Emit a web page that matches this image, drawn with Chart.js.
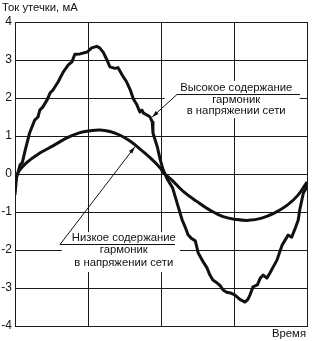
<!DOCTYPE html>
<html>
<head>
<meta charset="utf-8">
<script src="https://cdn.jsdelivr.net/npm/chart.js@4/dist/chart.umd.min.js"></script>
<style>
  html, body { margin: 0; padding: 0; background: #fff; }
  #wrap { width: 313px; height: 341px; position: relative; }
</style>
</head>
<body>
<div id="wrap"><canvas id="canvas"></canvas></div>
<script>
// values (x = time in grid divisions, y = mA)
const low_x = [0, 0.04, 0.16, 0.34, 0.52, 0.71, 0.89, 1.03, 1.16, 1.3, 1.44, 1.58, 1.71, 1.85, 1.99, 2.03, 2.15,
  2.3, 2.49, 2.67, 2.85, 3.04, 3.2, 3.38, 3.55, 3.73, 3.88, 4.0];
const low_y = [-0.25, 0.03, 0.3, 0.55, 0.74, 0.95, 1.09, 1.14, 1.16, 1.12, 1.02, 0.86, 0.66, 0.43, 0.16, 0.04, -0.16,
  -0.45, -0.72, -0.95, -1.12, -1.2, -1.22, -1.16, -1.03, -0.82, -0.55, -0.21];

const high_x = [0, 0.02, 0.05, 0.07, 0.1, 0.14, 0.2, 0.27, 0.315, 0.34, 0.38, 0.44, 0.48, 0.52, 0.59, 0.66, 0.73, 0.78,
  0.82, 0.89, 0.99, 1.05, 1.12, 1.16, 1.21, 1.26, 1.3, 1.37, 1.41, 1.47, 1.53, 1.58, 1.62, 1.67, 1.71, 1.74, 1.76,
  1.81, 1.85, 1.88, 1.89, 1.95, 1.99, 2.03, 2.08, 2.12, 2.16, 2.22, 2.29, 2.33, 2.37, 2.42, 2.47, 2.49, 2.51, 2.58,
  2.63, 2.67, 2.71, 2.77, 2.81, 2.85, 2.9, 2.95, 3.01, 3.08, 3.15, 3.19, 3.22, 3.26, 3.32, 3.36, 3.4, 3.45, 3.49,
  3.53, 3.59, 3.63, 3.66, 3.7, 3.74, 3.79, 3.84, 3.88, 3.9, 3.93, 3.95, 3.99, 4.0];
const high_y = [-0.55, -0.1, 0.1, 0.24, 0.3, 0.63, 1.08, 1.42, 1.5, 1.68, 1.76, 1.95, 2.13, 2.21, 2.42, 2.68, 2.87, 2.95,
  3.15, 3.16, 3.21, 3.32, 3.36, 3.32, 3.2, 3.0, 2.82, 2.78, 2.8, 2.6, 2.42, 2.21, 1.98, 1.82, 1.63, 1.68, 1.6,
  1.55, 1.5, 1.37, 1.08, 0.71, 0.37, 0.11, -0.11, -0.24, -0.37, -0.76, -1.21, -1.39, -1.6, -1.7, -1.76, -1.92, -2.08, -2.32,
  -2.47, -2.66, -2.79, -2.87, -2.94, -3.05, -3.11, -3.13, -3.18, -3.3, -3.37, -3.3, -3.18, -2.97, -2.92, -2.74, -2.66, -2.74, -2.61,
  -2.47, -2.26, -2.03, -1.87, -1.74, -1.61, -1.66, -1.42, -1.21, -0.95, -0.68, -0.5, -0.37, -0.21];

const y_min = -4, y_max = 4, y_step = 1;
const x_min = 0, x_max = 4, x_step = 1;

const y_title = "Ток утечки, мА";
const x_title = "Время";
const high_label = ["Высокое содержание", "гармоник", "в напряжении сети"];
const low_label = ["Низкое содержание", "гармоник", "в напряжении сети"];

const FONT = '11.3px "Liberation Sans", Arial, sans-serif';
const INK = "#111";

// callouts, in data coordinates
const callouts = [
  { lines: high_label, cx: 3.03, ys: [2.26, 1.95, 1.66],
    box: [2.05, 2.45, 3.9, 1.47],
    under: [[3.9, 2.1], [2.22, 2.1]], tip: [1.88, 1.5] },
  { lines: low_label, cx: 1.49, ys: [-1.68, -2.0, -2.34],
    box: [0.64, -1.53, 2.26, -2.58],
    under: [[2.19, -1.84], [0.62, -1.84]], tip: [1.64, 0.71] },
];

const to_points = (xs, ys) => xs.map((x, i) => ({ x: x, y: ys[i] }));

const callout_plugin = {
  id: "callouts",
  beforeDatasetsDraw(chart) {
    const ctx = chart.ctx, sx = chart.scales.x, sy = chart.scales.y;
    ctx.save();
    ctx.fillStyle = "#fff";
    callouts.forEach(c => {
      const x0 = sx.getPixelForValue(c.box[0]), y0 = sy.getPixelForValue(c.box[1]);
      const x1 = sx.getPixelForValue(c.box[2]), y1 = sy.getPixelForValue(c.box[3]);
      ctx.fillRect(x0, y0, x1 - x0, y1 - y0);
    });
    ctx.restore();
  },
  afterDraw(chart) {
    const ctx = chart.ctx, sx = chart.scales.x, sy = chart.scales.y;
    const area = chart.chartArea;
    ctx.save();
    ctx.font = FONT;
    ctx.fillStyle = INK;
    ctx.strokeStyle = INK;
    ctx.lineWidth = 1;
    ctx.textBaseline = "middle";

    // axis titles
    ctx.textAlign = "left";
    ctx.fillText(y_title, 2, 8);
    ctx.textAlign = "right";
    ctx.fillText(x_title, area.right - 1, area.bottom + 8);

    callouts.forEach(c => {
      ctx.textAlign = "center";
      const cx = sx.getPixelForValue(c.cx);
      c.lines.forEach((t, i) => ctx.fillText(t, cx, sy.getPixelForValue(c.ys[i])));

      const pts = c.under.concat([c.tip]).map(p => [sx.getPixelForValue(p[0]), sy.getPixelForValue(p[1])]);
      ctx.beginPath();
      ctx.moveTo(Math.round(pts[0][0]), Math.round(pts[0][1]) + 0.5);
      ctx.lineTo(Math.round(pts[1][0]), Math.round(pts[1][1]) + 0.5);
      ctx.lineTo(pts[2][0], pts[2][1]);
      ctx.stroke();

      // arrow head
      const [ex, ey] = pts[1], [tx, ty] = pts[2];
      const a = Math.atan2(ty - ey, tx - ex);
      ctx.beginPath();
      ctx.moveTo(tx, ty);
      ctx.lineTo(tx - 7 * Math.cos(a - 0.3), ty - 7 * Math.sin(a - 0.3));
      ctx.lineTo(tx - 7 * Math.cos(a + 0.3), ty - 7 * Math.sin(a + 0.3));
      ctx.closePath();
      ctx.fill();
    });
    ctx.restore();
  }
};

const chart = new Chart(document.getElementById("canvas").getContext("2d"), {
  type: "line",
  data: {
    datasets: [
      {
        label: "Низкое содержание",
        data: to_points(low_x, low_y),
        borderColor: INK,
        borderWidth: 3,
        pointRadius: 0,
        tension: 0.4,
        fill: false
      },
      {
        label: "Высокое содержание",
        data: to_points(high_x, high_y),
        borderColor: INK,
        borderWidth: 3,
        pointRadius: 0,
        tension: 0,
        borderJoinStyle: "round",
        fill: false
      }
    ]
  },
  options: {
    responsive: true,
    maintainAspectRatio: false,
    animation: false,
    events: [],
    layout: { padding: { top: 22, right: 6, bottom: 15, left: 0 } },
    plugins: {
      legend: { display: false },
      tooltip: { enabled: false },
      title: { display: false }
    },
    scales: {
      x: {
        type: "linear",
        min: x_min,
        max: x_max,
        ticks: { stepSize: x_step, display: false },
        grid: { color: "#1a1a1a", lineWidth: 1, drawTicks: false },
        border: { display: true, color: "#1a1a1a", width: 1 },
        afterFit: (s) => { s.height = 0; }
      },
      y: {
        type: "linear",
        min: y_min,
        max: y_max,
        ticks: {
          stepSize: y_step,
          padding: 3,
          color: INK,
          font: { family: '"Liberation Sans", Arial, sans-serif', size: 12 }
        },
        grid: { color: "#1a1a1a", lineWidth: 1, drawTicks: false },
        border: { display: true, color: "#1a1a1a", width: 1 },
        afterFit: (s) => { s.width = 15; }
      }
    }
  },
  plugins: [callout_plugin]
});
</script>
</body>
</html>
